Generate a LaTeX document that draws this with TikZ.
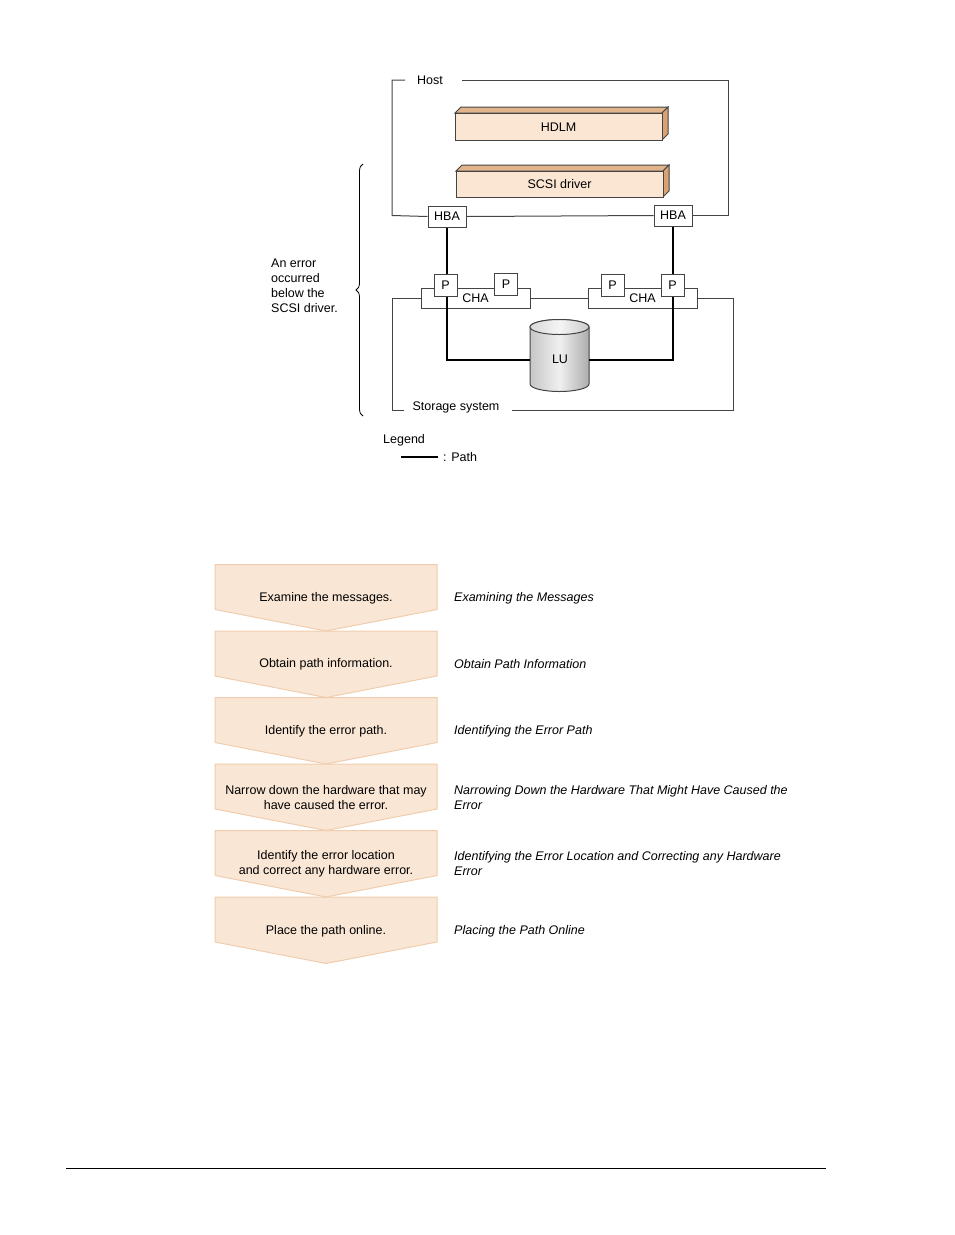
\documentclass[tikz,border=0pt]{standalone}
\usepackage{fontspec}
\setmainfont{Liberation Sans}
\usetikzlibrary{decorations.pathreplacing}
\definecolor{peach}{HTML}{FBE6D4}
\definecolor{peachtop}{HTML}{E2B48C}
\definecolor{peachdk}{HTML}{D9A274}
\definecolor{flowfill}{HTML}{FAE6D4}
\definecolor{flowline}{HTML}{F0CDAE}
\definecolor{frame}{HTML}{444444}
\begin{document}
\begin{tikzpicture}[x=1pt,y=-1pt,
  every node/.style={font=\fontsize{12.5}{15}\selectfont, inner sep=0pt},
  frameline/.style={draw=frame, line width=1pt},
  pathline/.style={draw=black, line width=2pt},
  smallbox/.style={draw=frame, line width=1pt, fill=white},
  hbabox/.style={smallbox, minimum width=38pt, minimum height=21pt},
  pbox/.style={smallbox, minimum width=23pt, minimum height=22pt},
  chabox/.style={draw=frame, line width=1pt, minimum width=109pt, minimum height=20pt},
  front/.style={fill=peach, draw=frame, line width=1pt},
  topface/.style={fill=peachtop, draw=frame, line width=1pt},
  sideface/.style={fill=peachdk, draw=frame, line width=1pt},
  flowbox/.style={fill=flowfill, draw=flowline, line width=1pt},
  italic/.style={font=\fontsize{12.5}{15}\selectfont\itshape, align=left, anchor=west}
]
\path[use as bounding box] (0,0) rectangle (954,1235);

% ---------- Host ----------
\node (host) at (430,80.5) {Host};
\node[hbabox] (hba1) at (447,216.5) {HBA};
\node[hbabox] (hba2) at (673,215.5) {HBA};
\draw[frameline] (405,80) -| (392,215.5) -- (hba1.west);
\draw[frameline] (hba1.east) -- (hba2.west);
\draw[frameline] (hba2.east) -| (728,80) -- (462,80);

% HDLM
\draw[topface] (455,113) -- (461,107) -- (668,107) -- (662,113) -- cycle;
\draw[sideface] (662,113) -- (668,107) -- (668,134) -- (662,140) -- cycle;
\draw[front] (455,113) rectangle (662,140);
\node (hdlm) at (558.5,127) {HDLM};
% SCSI driver
\draw[topface] (456,171) -- (462,165) -- (669,165) -- (663,171) -- cycle;
\draw[sideface] (663,171) -- (669,165) -- (669,191) -- (663,197) -- cycle;
\draw[front] (456,171) rectangle (663,197);
\node (scsi) at (559.5,184.5) {SCSI driver};

% ---------- Storage system ----------
\node[chabox] (cha1) at (475.5,298) {};
\node[chabox] (cha2) at (642.5,298) {};
\node at (475.5,298) {CHA};
\node at (642.5,298) {CHA};
\node (stor) at (456,407) {Storage system};
\draw[frameline] (404,410) -| (392,298) -- (cha1.west);
\draw[frameline] (cha1.east) -- (cha2.west);
\draw[frameline] (cha2.east) -| (733,410) -- (512,410);

% LU cylinder
\shade[left color=gray!45, right color=gray!65, middle color=gray!12, draw=frame, line width=1pt]
  (530,327) -- (530,384) arc[start angle=180, end angle=360, x radius=29.5pt, y radius=7.5pt]
  -- (589,327) arc[start angle=0, end angle=180, x radius=29.5pt, y radius=7.5pt] -- cycle;
\shade[left color=gray!30, right color=gray!40, middle color=gray!8, draw=frame, line width=1pt]
  (559.5,327) ellipse[x radius=29.5pt, y radius=7.5pt];
\node[minimum width=59pt, minimum height=10pt] (lu) at (559.5,360) {};
\node at (560,359) {LU};

% paths (under the P boxes)
\draw[pathline] (hba1.south) |- (lu.west);
\draw[pathline] (hba2.south) |- (lu.east);

\node[pbox] (p1) at (445.5,285) {P};
\node[pbox] (p2) at (506,284.5) {P};
\node[pbox] (p3) at (612.5,285) {P};
\node[pbox] (p4) at (672.5,285) {P};

% brace
\draw[line width=0.8pt, decorate, decoration={brace, amplitude=7pt}] (363,416) -- (363,164);
\node[align=left, anchor=north west] (err) at (271,259)
  {An error\\occurred\\below the\\SCSI driver.};

% legend
\node[anchor=west] (leg) at (383,440) {Legend};
\coordinate (l1) at (401,457);
\coordinate (l2) at (438,457);
\draw[pathline] (l1) -- (l2);
\node[anchor=west] (legp) at (443,457) {: Path};

% ---------- Flowchart ----------
\foreach \t/\nm in {564.5/f1, 631/f2, 697.5/f3, 764/f4, 830.5/f5, 897/f6}{
  \draw[flowbox] (215,\t) -- (437,\t) -- (437,\t+45) -- (326,\t+66.5) -- (215,\t+45) -- cycle;
}
\node[align=center] (s1) at (326,598) {Examine the messages.};
\node[align=center] (s2) at (326,664.5) {Obtain path information.};
\node[align=center] (s3) at (326,731) {Identify the error path.};
\node[align=center] (s4) at (326,797.5) {Narrow down the hardware that may\\have caused the error.};
\node[align=center] (s5) at (326,864) {Identify the error location\\and correct any hardware error.};
\node[align=center] (s6) at (326,931) {Place the path online.};

\node[italic] (r1) at (454,598) {Examining the Messages};
\node[italic] (r2) at (454,664.5) {Obtain Path Information};
\node[italic] (r3) at (454,731) {Identifying the Error Path};
\node[italic] (r4) at (454,797.5) {Narrowing Down the Hardware That Might Have Caused the\\Error};
\node[italic] (r5) at (454,864) {Identifying the Error Location and Correcting any Hardware\\Error};
\node[italic] (r6) at (454,931) {Placing the Path Online};

% bottom rule
\coordinate (b1) at (66,1168);
\coordinate (b2) at (826,1168);
\draw[line width=1pt] (b1) -- (b2);
\end{tikzpicture}
\end{document}
